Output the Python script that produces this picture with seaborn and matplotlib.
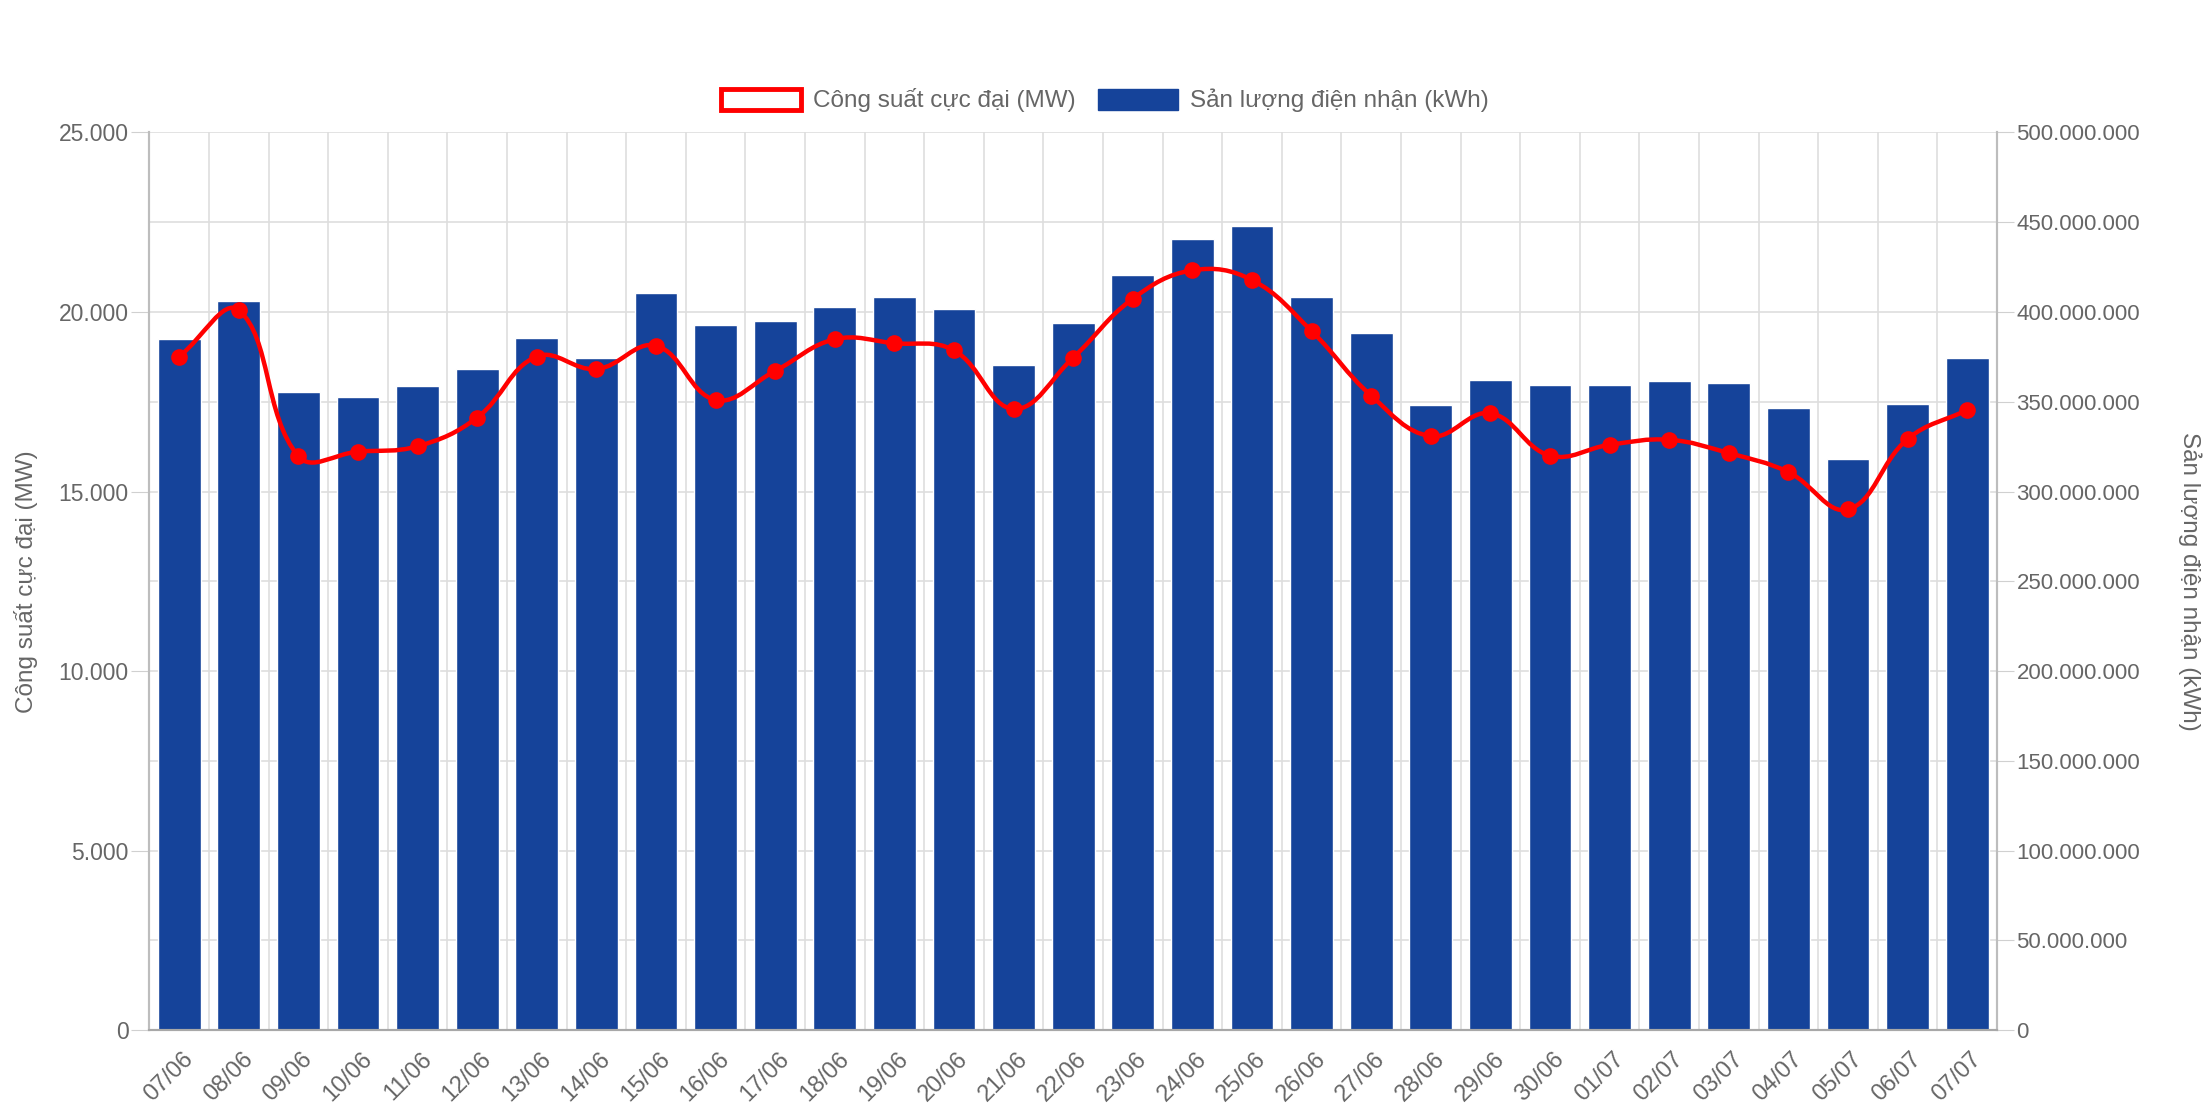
import numpy as np
import pandas as pd
import matplotlib
matplotlib.use("Agg")
import matplotlib.pyplot as plt
import seaborn as sns
from matplotlib.path import Path
from matplotlib.patches import PathPatch, Patch
from matplotlib.ticker import FuncFormatter, MultipleLocator, FixedLocator

# data
dates = ['07/06', '08/06', '09/06', '10/06', '11/06', '12/06', '13/06', '14/06',
         '15/06', '16/06', '17/06', '18/06', '19/06', '20/06', '21/06', '22/06',
         '23/06', '24/06', '25/06', '26/06', '27/06', '28/06', '29/06', '30/06',
         '01/07', '02/07', '03/07', '04/07', '05/07', '06/07', '07/07']
cong_suat_mw = [18760, 20050, 15980, 16110, 16260, 17060, 18760, 18410,
                19060, 17550, 18360, 19240, 19130, 18930, 17300, 18730,
                20370, 21160, 20890, 19470, 17670, 16540, 17180, 16000,
                16300, 16440, 16070, 15540, 14500, 16460, 17270]
san_luong_kwh = [384.8e6, 405.9e6, 355.7e6, 352.6e6, 358.9e6, 368.1e6, 385.6e6, 374.6e6,
                 410.4e6, 392.6e6, 394.8e6, 402.6e6, 408.1e6, 401.5e6, 370.4e6, 394.1e6,
                 420.4e6, 440.9e6, 448.1e6, 408.1e6, 388.1e6, 348.1e6, 362.2e6, 359.3e6,
                 359.3e6, 361.5e6, 360.6e6, 346.7e6, 318.1e6, 348.5e6, 374.6e6]

label_mw = 'Công suất cực đại (MW)'
label_kwh = 'Sản lượng điện nhận (kWh)'

df = pd.DataFrame({'ngay': dates, 'mw': cong_suat_mw, 'kwh': san_luong_kwh})
df['pos'] = np.arange(len(df))

sns.set_style('white')
plt.rcParams['font.family'] = ['Liberation Sans', 'DejaVu Sans']

TXT = '#666666'
GRID = '#dedede'
BLUE = '#15439a'
RED = '#ff0000'

fig = plt.figure(figsize=(22.1, 11.04), dpi=100)
fig.subplots_adjust(left=0.0676, right=0.9036, bottom=0.067, top=0.880)
ax = fig.add_subplot(111)      # bars, scale on the right
ax2 = ax.twinx()               # line, scale on the left

sns.barplot(data=df, x='ngay', y='kwh', ax=ax, color=BLUE, saturation=1,
            width=0.72, zorder=2)
ax.set_xlim(-0.5, len(df) - 0.5)
ax.set_ylim(0, 500e6)
ax2.set_ylim(0, 25000)

# swap sides: bar axis on the right, line axis on the left
ax.yaxis.tick_right()
ax.yaxis.set_label_position('right')
ax2.yaxis.tick_left()
ax2.yaxis.set_label_position('left')

fmt = FuncFormatter(lambda v, p: f'{int(round(v)):,}'.replace(',', '.'))
ax.yaxis.set_major_locator(MultipleLocator(50e6))
ax.yaxis.set_major_formatter(fmt)
ax2.yaxis.set_major_locator(MultipleLocator(5000))
ax2.yaxis.set_major_formatter(fmt)

# x ticks: gridlines between categories, labels at centres
ax.xaxis.set_major_locator(FixedLocator(np.arange(len(df) + 1) - 0.5))
ax.xaxis.set_minor_locator(FixedLocator(np.arange(len(df)) + 0.05))
ax.set_xticklabels([], minor=False)
ax.set_xticklabels(dates, minor=True, rotation=45, ha='right', va='top',
                   rotation_mode='anchor', color=TXT, fontsize=17)
ax.tick_params(axis='x', which='major', length=16, color=GRID, width=1.2)
ax.tick_params(axis='x', which='minor', length=0, pad=13)
ax.set_xlabel('')

ax.grid(True, which='major', axis='both', color=GRID, lw=1.2)
ax.set_axisbelow(True)
ax2.grid(False)

ax.tick_params(axis='y', length=12, color='#d0d0d0', labelcolor=TXT, labelsize=16, pad=2)
ax2.tick_params(axis='y', length=13, color='#d0d0d0', labelcolor=TXT, labelsize=16.5, pad=2)

ax.set_ylabel(label_kwh, color=TXT, fontsize=17.5, rotation=270, labelpad=44)
ax2.set_ylabel(label_mw, color=TXT, fontsize=17.5, labelpad=15)

for a in (ax, ax2):
    a.spines['top'].set_visible(False)
    a.spines['left'].set_color('#bdbdbd')
    a.spines['right'].set_color('#bdbdbd')
    a.spines['bottom'].set_color('#a8a8a8')
    for s in ('left', 'right', 'bottom'):
        a.spines[s].set_linewidth(1.5)

# smooth line like the original chart (tension 0.4 bezier through the points)
pts = ax2.transData.transform(np.column_stack([df['pos'], df['mw']]))
n = len(pts)
cp_in, cp_out = [], []
for i in range(n):
    prev = pts[i - 1] if i > 0 else pts[i]
    nxt = pts[i + 1] if i < n - 1 else pts[i]
    d01 = np.hypot(*(pts[i] - prev))
    d12 = np.hypot(*(nxt - pts[i]))
    tot = d01 + d12 if d01 + d12 > 0 else 1
    cp_in.append(pts[i] - 0.4 * d01 / tot * (nxt - prev))
    cp_out.append(pts[i] + 0.4 * d12 / tot * (nxt - prev))
verts = [pts[0]]
codes = [Path.MOVETO]
for i in range(n - 1):
    verts += [cp_out[i], cp_in[i + 1], pts[i + 1]]
    codes += [Path.CURVE4] * 3
verts = ax2.transData.inverted().transform(np.array(verts))
ax2.add_patch(PathPatch(Path(verts, codes), fill=False, edgecolor=RED, lw=3.2,
                        capstyle='round', joinstyle='round', zorder=3))
sns.scatterplot(data=df, x='pos', y='mw', ax=ax2, color=RED, s=110,
                edgecolor=RED, linewidth=1.5, zorder=4, legend=False)
ax2.set_xlim(-0.5, len(df) - 0.5)
ax2.set_xlabel('')

handles = [Patch(facecolor='white', edgecolor=RED, lw=3.5),
           Patch(facecolor=BLUE, edgecolor=BLUE)]
fig.legend(handles, [label_mw, label_kwh], loc='center',
           bbox_to_anchor=(0.5, 0.909), ncol=2, frameon=False,
           fontsize=17.5, labelcolor=TXT, handlelength=3.3, handleheight=0.95,
           handletextpad=0.5, columnspacing=0.9)

fig.savefig('out.png', dpi=100)
